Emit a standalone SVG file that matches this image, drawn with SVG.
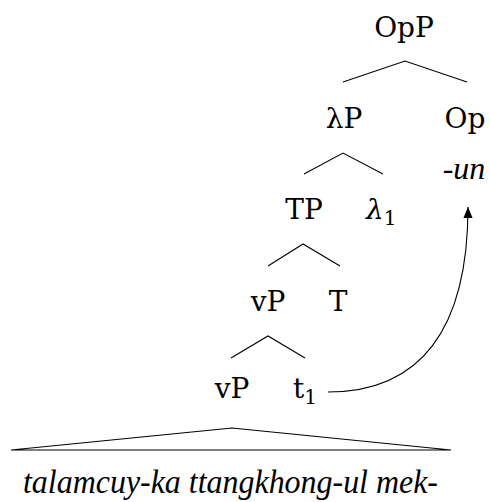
<svg xmlns="http://www.w3.org/2000/svg" width="490" height="502" viewBox="0 0 490 502">
<style>
text{font-family:"DejaVu Serif","Liberation Serif",serif;font-size:28px;fill:#000}
.c{text-anchor:middle}
.i{font-style:italic}
.t{font-family:"Liberation Serif","DejaVu Serif",serif;font-style:italic}
.s{font-size:20px}
.e{fill:none;stroke:#000;stroke-width:1.1}
</style>
<defs>
<marker id="ah" markerUnits="userSpaceOnUse" markerWidth="12" markerHeight="12" viewBox="-10 -5 11 10" refX="0" refY="0" orient="auto">
<path d="M0,0 L-10,-4.2 L-10,4.2 Z" fill="#000"/>
</marker>
</defs>
<rect width="490" height="502" fill="#fff"/>
<g id="connectors">
<polyline class="e" points="343,82 405,61 467,82"/>
<polyline class="e" points="304,174 343,153 383,174"/>
<polyline class="e" points="268,266 303,244 340,266"/>
<polyline class="e" points="231,358 268,336 305,358"/>
<polygon class="e" points="11,450 232,428 451,450"/>
<path class="e" d="M328,392 C420,392 468,330 468,207" marker-end="url(#ah)"/>
</g>
<g id="OpP"><text class="c" x="404" y="37">OpP</text></g>
<g id="lambdaP"><text class="c" x="344" y="128">λP</text></g>
<g id="Op"><text class="c" x="465" y="128">Op</text><text class="c t" x="464" y="179" style="font-size:32px">-un</text></g>
<g id="TP"><text class="c" x="304" y="219">TP</text></g>
<g id="lambda1"><text x="366" y="219"><tspan class="i">λ</tspan><tspan class="s" dy="6">1</tspan></text></g>
<g id="vP-mid"><text class="c" x="268" y="311">vP</text></g>
<g id="T"><text class="c" x="338" y="311">T</text></g>
<g id="vP-low"><text class="c" x="232" y="398">vP</text></g>
<g id="t1"><text x="293" y="398">t<tspan class="s" dy="6">1</tspan></text></g>
<g id="yield"><text class="t" x="23" y="493" style="font-size:34px" textLength="415" lengthAdjust="spacingAndGlyphs">talamcuy-ka ttangkhong-ul mek-</text></g>
</svg>
